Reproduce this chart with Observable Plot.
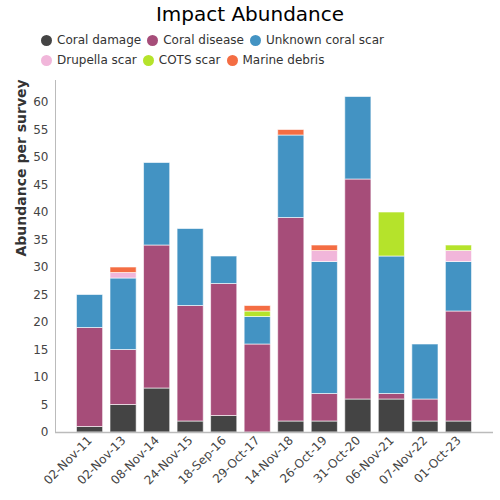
<!DOCTYPE html>
<html><head><meta charset="utf-8">
<script src="https://cdn.jsdelivr.net/npm/d3@7"></script>
<script src="https://cdn.jsdelivr.net/npm/@observablehq/plot@0.6"></script>
<style>
body{margin:0;background:#fff;font-family:"DejaVu Sans",sans-serif}
#wrap{width:500px}
#head{height:72px;position:relative}
#title{position:absolute;top:0;left:0;width:500px;text-align:center;font-size:20px;line-height:28px;color:#000}
#legend{position:absolute;top:30px;left:41px;width:360px;display:flex;flex-wrap:wrap}
.item{display:flex;align-items:center;height:20px;margin-right:6px;font-size:12px;color:#333;white-space:nowrap}
.dot{width:11px;height:11px;border-radius:50%;margin-right:5px;flex:none}
</style>
</head><body>
<div id="wrap">
  <div id="head"><div id="title"></div><div id="legend"></div></div>
  <div id="chart"></div>
</div>
<script>
const titleText = "Impact Abundance";
const yLabel = "Abundance per survey";
const dates = ["02-Nov-11","02-Nov-13","08-Nov-14","24-Nov-15","18-Sep-16","29-Oct-17","14-Nov-18","26-Oct-19","31-Oct-20","06-Nov-21","07-Nov-22","01-Oct-23"];
const seriesNames = ["Coral damage","Coral disease","Unknown coral scar","Drupella scar","COTS scar","Marine debris"];
const seriesColors = ["#444444","#a64d79","#4393c3","#f1b6da","#b5e32b","#f46d43"];
const coralDamage  = [1,5,8,2,3,0,2,2,6,6,2,2];
const coralDisease = [18,10,26,21,24,16,37,5,40,1,4,20];
const unknownScar  = [6,13,15,14,5,5,15,24,15,25,10,9];
const drupellaScar = [0,1,0,0,0,0,0,2,0,0,0,2];
const cotsScar     = [0,0,0,0,0,1,0,0,0,8,0,1];
const marineDebris = [0,1,0,0,0,1,1,1,0,0,0,0];
const yTicks = [0,5,10,15,20,25,30,35,40,45,50,55,60];

const seriesValues = [coralDamage, coralDisease, unknownScar, drupellaScar, cotsScar, marineDebris];
const table = [];
seriesNames.forEach((s, i) => {
  dates.forEach((d, j) => {
    const v = seriesValues[i][j];
    if (v > 0) table.push({date: d, series: s, value: v});
  });
});

document.getElementById("title").textContent = titleText;
const legend = document.getElementById("legend");
seriesNames.forEach((s, i) => {
  const it = document.createElement("div");
  it.className = "item";
  const dot = document.createElement("span");
  dot.className = "dot";
  dot.style.background = seriesColors[i];
  it.appendChild(dot);
  it.appendChild(document.createTextNode(s));
  legend.appendChild(it);
});

const chart = Plot.plot({
  width: 500,
  height: 428,
  marginTop: 8,
  marginBottom: 68,
  marginLeft: 55,
  marginRight: 7,
  style: {fontFamily: "DejaVu Sans, sans-serif", fontSize: "12px", color: "#333", background: "#fff"},
  x: {domain: dates, paddingInner: 0.22, paddingOuter: 0.64, round: false, label: null},
  y: {domain: [0, 64], label: null},
  color: {domain: seriesNames, range: seriesColors},
  marks: [
    Plot.barY(table, {x: "date", y: "value", fill: "series", order: seriesNames, stroke: "white", strokeOpacity: 0.6, strokeWidth: 1}),
    Plot.frame({anchor: "left", stroke: "#bbb"}),
    Plot.ruleY([0], {stroke: "#bbb", strokeWidth: 1.3}),
    Plot.axisY({ticks: yTicks, tickSize: 0, tickPadding: 7, label: null, fill: "#444"}),
    Plot.axisX({tickRotate: -45, tickSize: 0, tickPadding: 6, dx: 0, label: null, fill: "#444"}),
    Plot.text([yLabel], {frameAnchor: "left", rotate: -90, dx: -34, fontWeight: "bold", fontSize: 14, fill: "#333"})
  ]
});
document.getElementById("chart").appendChild(chart);
</script>
</body></html>
